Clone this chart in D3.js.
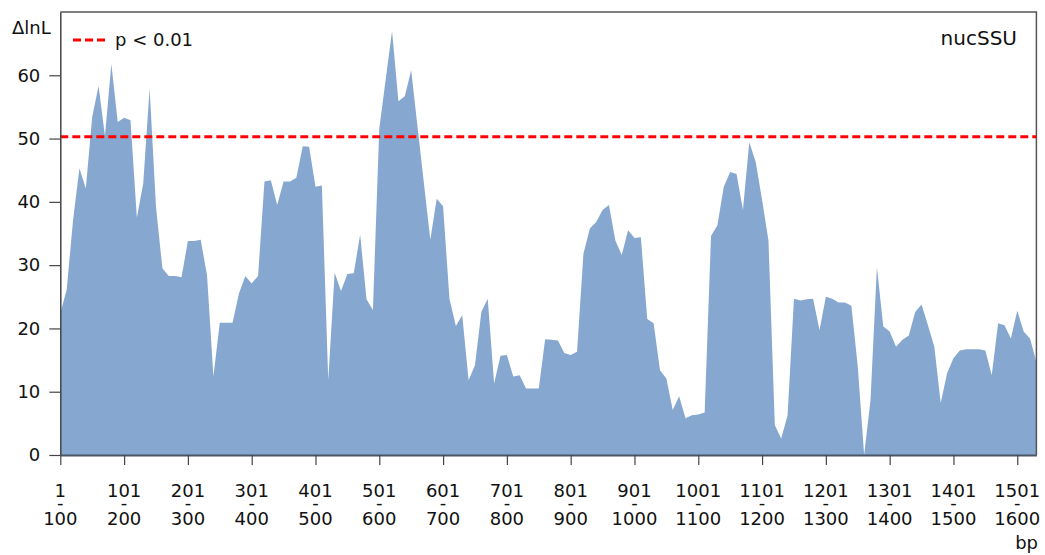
<!DOCTYPE html>
<html>
<head>
<meta charset="utf-8">
<script src="https://cdn.jsdelivr.net/npm/d3@7"></script>
<style>
  body { margin: 0; background: #fff; }
  svg text { font-family: "DejaVu Sans", Verdana, sans-serif; fill: #111; }
</style>
</head>
<body>
<div id="chart"></div>
<script>
// sliding window start positions (100 bp windows, step 10 bp)
const windowStart = d3.range(1, 1532, 10);

// delta lnL per window
const deltaLnL = [
  22.4, 26.1, 37.1, 45.3, 42.1, 53.4, 58.3, 50.4, 61.8, 52.6,
  53.3, 52.9, 37.5, 42.9, 57.9, 39.2, 29.5, 28.3, 28.3, 28.1,
  33.8, 33.8, 34.0, 28.4, 12.4, 20.9, 20.9, 20.9, 25.5, 28.3,
  27.1, 28.3, 43.2, 43.4, 39.5, 43.2, 43.2, 43.8, 48.8, 48.7,
  42.4, 42.6, 11.8, 28.8, 25.9, 28.6, 28.7, 34.8, 24.6, 22.9,
  51.6, 59.3, 67.0, 55.9, 56.7, 60.8, 51.8, 42.9, 34.0, 40.5,
  39.3, 24.7, 20.4, 22.1, 11.8, 14.2, 22.6, 24.7, 11.3, 15.7,
  15.8, 12.4, 12.6, 10.5, 10.5, 10.5, 18.3, 18.2, 18.1, 16.1,
  15.8, 16.3, 31.8, 35.8, 36.8, 38.7, 39.5, 33.9, 31.6, 35.5,
  34.3, 34.4, 21.5, 20.8, 13.4, 12.1, 7.1, 9.3, 5.8, 6.3,
  6.4, 6.7, 34.6, 36.3, 42.4, 44.7, 44.4, 38.7, 49.4, 46.3,
  40.3, 33.9, 4.7, 2.6, 6.3, 24.7, 24.4, 24.6, 24.7, 19.7,
  25.0, 24.7, 24.1, 24.1, 23.6, 14.0, 0.0, 8.7, 29.7, 20.3,
  19.5, 17.1, 18.2, 18.9, 22.6, 23.8, 20.5, 17.1, 8.2, 12.9,
  15.3, 16.5, 16.7, 16.7, 16.7, 16.5, 12.6, 20.8, 20.5, 18.4,
  22.8, 19.5, 18.4, 14.7
];

const xTickStart = [1, 101, 201, 301, 401, 501, 601, 701, 801, 901, 1001, 1101, 1201, 1301, 1401, 1501];
const xTickEnd = [100, 200, 300, 400, 500, 600, 700, 800, 900, 1000, 1100, 1200, 1300, 1400, 1500, 1600];
const yTicks = [0, 10, 20, 30, 40, 50, 60];
const threshold = 50.3; // p < 0.01

const data = windowStart.map((s, i) => ({ start: s, value: deltaLnL[i] }));

const W = 1045, H = 555;
const plotLeft = 60.3, plotRight = 1036.4, plotTop = 12, plotBottom = 455;

const svg = d3.select("#chart").append("svg")
    .attr("width", W)
    .attr("height", H);

const x = d3.scaleLinear()
    .domain([1, 1531])
    .range([plotLeft, plotRight]);

const y = d3.scaleLinear()
    .domain([0, 70])
    .range([plotBottom, plotTop]);

// area
const area = d3.area()
    .x(d => x(d.start))
    .y0(y(0))
    .y1(d => y(d.value));

svg.append("path")
    .datum(data)
    .attr("fill", "#86a7cf")
    .attr("d", area);

// frame (top + right)
svg.append("path")
    .attr("d", `M${plotLeft},${plotTop}H${plotRight}V${plotBottom}`)
    .attr("fill", "none")
    .attr("stroke", "#555")
    .attr("stroke-width", 1.5);

// threshold line
svg.append("line")
    .attr("x1", plotLeft).attr("x2", plotRight)
    .attr("y1", y(threshold)).attr("y2", y(threshold))
    .attr("stroke", "#ff0000")
    .attr("stroke-width", 3)
    .attr("stroke-dasharray", "8,4");

// Y axis
const yAxis = svg.append("g")
    .attr("transform", `translate(${plotLeft},0)`)
    .call(d3.axisLeft(y).tickValues(yTicks).tickSize(11).tickPadding(9).tickSizeOuter(0));
yAxis.select(".domain").attr("stroke", "#444").attr("stroke-width", 1.5);
yAxis.selectAll(".tick line").attr("stroke", "#444").attr("stroke-width", 1.2);
yAxis.selectAll(".tick text")
    .attr("font-size", "18px")
    .attr("font-family", "DejaVu Sans, Verdana, sans-serif")
    .attr("fill", "#111");

// X axis (labels drawn separately: start / hyphen / end)
const xAxis = svg.append("g")
    .attr("transform", `translate(0,${plotBottom})`)
    .call(d3.axisBottom(x).tickValues(xTickStart).tickSize(10).tickFormat("").tickSizeOuter(0));
xAxis.select(".domain").attr("stroke", "#4a5566").attr("stroke-width", 2);
xAxis.selectAll(".tick line").attr("stroke", "#444").attr("stroke-width", 1.2);

const xLab = svg.append("g")
    .attr("font-size", "18px")
    .attr("text-anchor", "middle");

xTickStart.forEach((s, i) => {
    const t = xLab.append("text").attr("transform", `translate(${x(s)},0)`);
    t.append("tspan").attr("x", 0).attr("y", 497).text(s);
    t.append("tspan").attr("x", 0).attr("y", 509).text("-");
    t.append("tspan").attr("x", 0).attr("y", 525).text(xTickEnd[i]);
});

// axis titles
svg.append("text")
    .attr("x", 12).attr("y", 34)
    .attr("font-size", "18px")
    .text("ΔlnL");

svg.append("text")
    .attr("x", 1038).attr("y", 549)
    .attr("text-anchor", "end")
    .attr("font-size", "18px")
    .text("bp");

// panel title
svg.append("text")
    .attr("x", 1017).attr("y", 45)
    .attr("text-anchor", "end")
    .attr("font-size", "20px")
    .text("nucSSU");

// legend
svg.append("line")
    .attr("x1", 73).attr("x2", 106)
    .attr("y1", 40).attr("y2", 40)
    .attr("stroke", "#ff0000")
    .attr("stroke-width", 3)
    .attr("stroke-dasharray", "8,4");

svg.append("text")
    .attr("x", 115).attr("y", 46)
    .attr("font-size", "18px")
    .style("white-space", "pre")
    .text("p < 0.01");
</script>
</body>
</html>
